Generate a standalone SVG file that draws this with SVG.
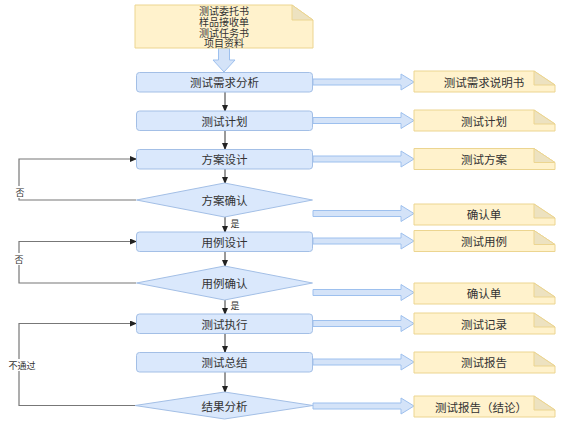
<svg xmlns="http://www.w3.org/2000/svg" width="562" height="426" viewBox="0 0 562 426">
<defs>
<style>
.box{fill:#dae8fc;stroke:#a3bfe6;stroke-width:1}
.doc{fill:#fff2cc;stroke:#ecd590;stroke-width:1}
.fold{fill:#ede2c0;stroke:#ecd590;stroke-width:1}
.t{font-family:"Noto Sans CJK SC","Noto Sans",sans-serif;font-size:11.5px;fill:#333;text-anchor:middle;dominant-baseline:central}
.ts{font-family:"Noto Sans CJK SC","Noto Sans",sans-serif;font-size:10px;fill:#333;text-anchor:middle;dominant-baseline:central}
.lbl{font-family:"Noto Sans CJK SC","Noto Sans",sans-serif;font-size:9px;fill:#333;text-anchor:middle;dominant-baseline:central}
.v{fill:none;stroke:#333;stroke-width:1;marker-end:url(#ah)}
.loop{fill:none;stroke:#777;stroke-width:1.2;marker-end:url(#ah)}
.big{fill:#d4e3f8;stroke:#9dc0ee;stroke-width:1}
</style>
<marker id="ah" markerWidth="7" markerHeight="6" refX="6" refY="3" orient="auto" markerUnits="userSpaceOnUse">
<path d="M0,0 L7,3 L0,6 Z" fill="#222"/>
</marker>
</defs>
<rect width="562" height="426" fill="#fff"/>

<g id="connectors">
<path class="big" d="M218.5,48 V60 H213 L224,72 L235,60 H229.5 V48 Z"/>
<path class="v" d="M225,92 V111"/>
<path class="v" d="M225,130 V149"/>
<path class="v" d="M225,169 V183"/>
<path class="v" d="M225,217 V232"/>
<path class="v" d="M225,251 V266"/>
<path class="v" d="M225,300 V314"/>
<path class="v" d="M225,333 V352"/>
<path class="v" d="M225,372 V392"/>
<path class="loop" d="M136,200 H19 V159 H136"/>
<path class="loop" d="M136,283 H19 V241.5 H136"/>
<path class="loop" d="M135,405.5 H19 V323.5 H136"/>
<path class="big" d="M313,79 H401 V74 L414,82 L401,90 V85 H313 Z"/>
<path class="big" d="M313,117.5 H401 V112.5 L414,120.5 L401,128.5 V123.5 H313 Z"/>
<path class="big" d="M313,156 H401 V151 L414,159 L401,167 V162 H313 Z"/>
<path class="big" d="M313,210.5 H401 V205.5 L414,213.5 L401,221.5 V216.5 H313 Z"/>
<path class="big" d="M313,238 H401 V233 L414,241 L401,249 V244 H313 Z"/>
<path class="big" d="M313,289.5 H401 V284.5 L414,292.5 L401,300.5 V295.5 H313 Z"/>
<path class="big" d="M313,320.5 H401 V315.5 L414,323.5 L401,331.5 V326.5 H313 Z"/>
<path class="big" d="M313,359 H401 V354 L414,362 L401,370 V365 H313 Z"/>
<path class="big" d="M313,403 H401 V398 L414,406 L401,414 V409 H313 Z"/>
<rect x="14" y="186" width="12" height="12" fill="#fff"/>
<text class="lbl" x="20" y="192">否</text>
<rect x="13" y="253" width="12" height="12" fill="#fff"/>
<text class="lbl" x="19" y="259">否</text>
<rect x="7" y="359" width="30" height="12" fill="#fff"/>
<text class="lbl" x="22" y="365">不通过</text>
<text class="lbl" x="235" y="223.5">是</text>
<text class="lbl" x="235" y="305">是</text>
</g>

<g id="input-doc">
<path class="doc" d="M135,5 H292 L313,20 V48 H135 Z"/>
<path class="fold" d="M292,5 V20 H313 Z"/>
<text class="ts" x="224" y="10.5">测试委托书</text>
<text class="ts" x="224" y="21.3">样品接收单</text>
<text class="ts" x="224" y="32.1">测试任务书</text>
<text class="ts" x="224" y="42.9">项目资料</text>
</g>

<g id="n1"><rect class="box" x="136.5" y="72.5" width="176" height="19.5" rx="3"/><text class="t" x="224.5" y="82">测试需求分析</text></g>
<g id="n2"><rect class="box" x="136.5" y="111" width="176" height="19.5" rx="3"/><text class="t" x="224.5" y="120.5">测试计划</text></g>
<g id="n3"><rect class="box" x="136.5" y="149.5" width="176" height="19.5" rx="3"/><text class="t" x="224.5" y="159">方案设计</text></g>
<g id="d1"><path class="box" d="M136.5,200 L224.5,183 L312.5,200 L224.5,217 Z"/><text class="t" x="224.5" y="200">方案确认</text></g>
<g id="n4"><rect class="box" x="136.5" y="232" width="176" height="19.5" rx="3"/><text class="t" x="224.5" y="241.5">用例设计</text></g>
<g id="d2"><path class="box" d="M136.5,283 L224.5,266 L312.5,283 L224.5,300 Z"/><text class="t" x="224.5" y="283">用例确认</text></g>
<g id="n5"><rect class="box" x="136.5" y="314" width="176" height="19.5" rx="3"/><text class="t" x="224.5" y="323.5">测试执行</text></g>
<g id="n6"><rect class="box" x="136.5" y="352.5" width="176" height="19.5" rx="3"/><text class="t" x="224.5" y="362">测试总结</text></g>
<g id="d3"><path class="box" d="M135,405.5 L224.5,392 L313,405.5 L224.5,419 Z"/><text class="t" x="224.5" y="405.5">结果分析</text></g>

<g id="o1"><path class="doc" d="M414,71 H534 L555,85 V92 H414 Z"/><path class="fold" d="M534,71 V85 H555 Z"/><text class="t" x="484" y="81.5">测试需求说明书</text></g>
<g id="o2"><path class="doc" d="M414,110 H534 L555,124 V131 H414 Z"/><path class="fold" d="M534,110 V124 H555 Z"/><text class="t" x="484" y="120.5">测试计划</text></g>
<g id="o3"><path class="doc" d="M414,148.5 H534 L555,162.5 V169.5 H414 Z"/><path class="fold" d="M534,148.5 V162.5 H555 Z"/><text class="t" x="484" y="159">测试方案</text></g>
<g id="o4"><path class="doc" d="M414,204 H534 L555,218 V225 H414 Z"/><path class="fold" d="M534,204 V218 H555 Z"/><text class="t" x="484" y="214">确认单</text></g>
<g id="o5"><path class="doc" d="M414,230.5 H534 L555,244.5 V251.5 H414 Z"/><path class="fold" d="M534,230.5 V244.5 H555 Z"/><text class="t" x="484" y="241">测试用例</text></g>
<g id="o6"><path class="doc" d="M414,283 H534 L555,297 V304 H414 Z"/><path class="fold" d="M534,283 V297 H555 Z"/><text class="t" x="484" y="293">确认单</text></g>
<g id="o7"><path class="doc" d="M414,313 H534 L555,327 V334 H414 Z"/><path class="fold" d="M534,313 V327 H555 Z"/><text class="t" x="484" y="323.5">测试记录</text></g>
<g id="o8"><path class="doc" d="M414,352 H534 L555,366 V373 H414 Z"/><path class="fold" d="M534,352 V366 H555 Z"/><text class="t" x="484" y="362">测试报告</text></g>
<g id="o9"><path class="doc" d="M414,396 H534 L555,410 V417 H414 Z"/><path class="fold" d="M534,396 V410 H555 Z"/><text class="t" x="481" y="406.5">测试报告（结论）</text></g>
</svg>
